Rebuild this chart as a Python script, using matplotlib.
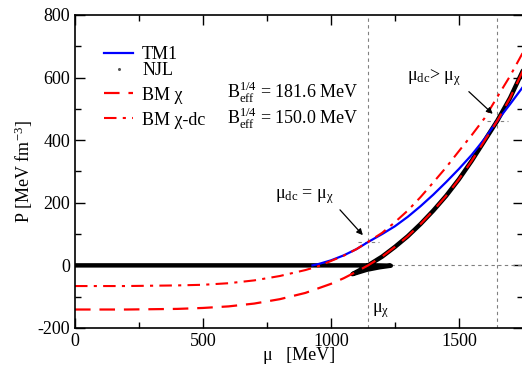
import matplotlib
matplotlib.use("Agg")
import matplotlib.pyplot as plt
from matplotlib.lines import Line2D
from matplotlib.ticker import MultipleLocator

# values (mu in MeV, P in MeV fm^-3)
mu_tm1 = [928, 950, 1000, 1050, 1100, 1146, 1200, 1250, 1300, 1350, 1400,
          1450, 1500, 1550, 1600, 1650, 1700, 1750]
p_tm1 = [0, 4, 16, 32, 52, 75, 100, 125, 155, 189, 226, 266, 308, 353,
         404, 462, 515, 570]

mu_njl = [0, 600, 1100, 1180, 1234, 1190, 1140, 1084, 1115, 1145, 1200,
          1250, 1300, 1350, 1400, 1450, 1500, 1550, 1600, 1650, 1700, 1750]
p_njl = [0, 0, 0, 0, -1, -6, -14, -28, -14, 0, 28, 59, 93, 132, 175, 222,
         275, 334, 398, 462, 535, 622]

mu_bm = [0, 200, 400, 500, 600, 700, 800, 900, 1000, 1050, 1100, 1145,
         1200, 1250, 1300, 1350, 1400, 1450, 1500, 1550, 1600, 1650, 1700,
         1750]
p_bm = [-141, -141, -139, -136, -131, -122, -108, -88, -59, -41, -20, 0,
        28, 59, 93, 132, 175, 222, 275, 334, 398, 462, 535, 622]

mu_dc = [0, 200, 400, 500, 600, 700, 800, 900, 950, 1000, 1050, 1100, 1145,
         1200, 1250, 1300, 1350, 1400, 1450, 1500, 1550, 1600, 1650, 1700,
         1750]
p_dc = [-66, -66, -64, -62, -57, -48, -34, -15, -3, 14, 31, 52, 75, 104,
        138, 175, 218, 265, 313, 365, 416, 470, 538, 605, 680]

mu_chi = 1145
mu_dc_hi = 1650
p_cross_lo = 75
p_cross_hi = 462
njl_end = 1234

plt.rcParams["font.family"] = ["Liberation Serif", "DejaVu Serif"]
plt.rcParams["mathtext.fontset"] = "custom"
plt.rcParams["mathtext.rm"] = "Liberation Serif"
plt.rcParams["mathtext.it"] = "Liberation Serif:italic"
plt.rcParams["axes.unicode_minus"] = False

fig = plt.figure(figsize=(5.22, 3.67), dpi=100)
ax = fig.add_axes([0.1437, 0.1063, 0.858, 0.853])

# guide lines
gcol = "#808080"
dash = (0, (3, 3))
ax.axvline(mu_chi, color=gcol, lw=0.8, ls=dash)
ax.axvline(mu_dc_hi, color=gcol, lw=0.8, ls=dash)
ax.plot([njl_end, 1750], [0, 0], color=gcol, lw=0.8, ls=dash)
ax.plot([1106, 1188], [p_cross_lo, p_cross_lo], color=gcol, lw=0.8, ls=dash)
ax.plot([1609, 1690], [p_cross_hi, p_cross_hi], color=gcol, lw=0.8, ls=dash)

ax.plot(mu_njl, p_njl, color="black", lw=3.2, solid_joinstyle="round",
        solid_capstyle="round")
ax.plot(mu_tm1, p_tm1, color="#0000ff", lw=1.6)
ax.plot(mu_dc, p_dc, color="#ff0000", lw=1.5, ls=(0, (6, 3, 1.5, 3)))
ax.plot(mu_bm, p_bm, color="#ff0000", lw=1.6, ls=(0, (7, 4)))

ax.set_xlim(0, 1750)
ax.set_ylim(-200, 800)
ax.xaxis.set_major_locator(MultipleLocator(500))
ax.xaxis.set_minor_locator(MultipleLocator(250))
ax.yaxis.set_major_locator(MultipleLocator(200))
ax.yaxis.set_minor_locator(MultipleLocator(100))
ax.tick_params(which="both", direction="in", top=True, right=True, labelsize=13)
ax.tick_params(which="major", length=7, width=1)
ax.tick_params(which="minor", length=4, width=1)
for s in ax.spines.values():
    s.set_linewidth(1.2)

ax.set_xlabel("μ   [MeV]", fontsize=13, labelpad=-2)
ax.set_ylabel(r"P [MeV fm$^{-3}$]", fontsize=13, labelpad=2)

# legends
h1 = [Line2D([], [], color="#0000ff", lw=1.6),
      Line2D([], [], color="#555555", marker="o", ls="none", markersize=1.2)]
leg1 = ax.legend(h1, ["TM1", "NJL"], loc="upper left", bbox_to_anchor=(0.045, 0.93),
                 frameon=False, fontsize=13, borderpad=0, handlelength=1.6,
                 handletextpad=0.5, labelspacing=-0.05)
ax.add_artist(leg1)
h2 = [Line2D([], [], color="#ff0000", lw=1.6, ls=(0, (7, 4))),
      Line2D([], [], color="#ff0000", lw=1.5, ls=(0, (6, 3, 1.5, 3)))]
ax.legend(h2, ["BM χ", "BM χ-dc"], loc="upper left", bbox_to_anchor=(0.045, 0.80),
          frameon=False, fontsize=13, borderpad=0, handlelength=1.6,
          handletextpad=0.5, labelspacing=0.45)

ax.text(0.339, 0.754, r"B$_{\rm eff}^{1/4}$ = 181.6 MeV", transform=ax.transAxes,
        fontsize=13, va="center")
ax.text(0.339, 0.668, r"B$_{\rm eff}^{1/4}$ = 150.0 MeV", transform=ax.transAxes,
        fontsize=13, va="center")

# annotations
ax.text(780, 220, r"μ$_{\rm dc}$ = μ$_{\rm χ}$", fontsize=13, va="center")
ax.annotate("", xy=(1132, 90), xytext=(1028, 184),
            arrowprops=dict(arrowstyle="-|>", color="black", lw=0.9, mutation_scale=9))
ax.text(1297, 600, r"μ$_{\rm dc}$> μ$_{\rm χ}$", fontsize=13, va="center")
ax.annotate("", xy=(1640, 478), xytext=(1531, 561),
            arrowprops=dict(arrowstyle="-|>", color="black", lw=0.9, mutation_scale=9))
ax.text(1161, -145, r"μ$_{\rm χ}$", fontsize=13, va="center")

fig.savefig("out.png", dpi=100)
